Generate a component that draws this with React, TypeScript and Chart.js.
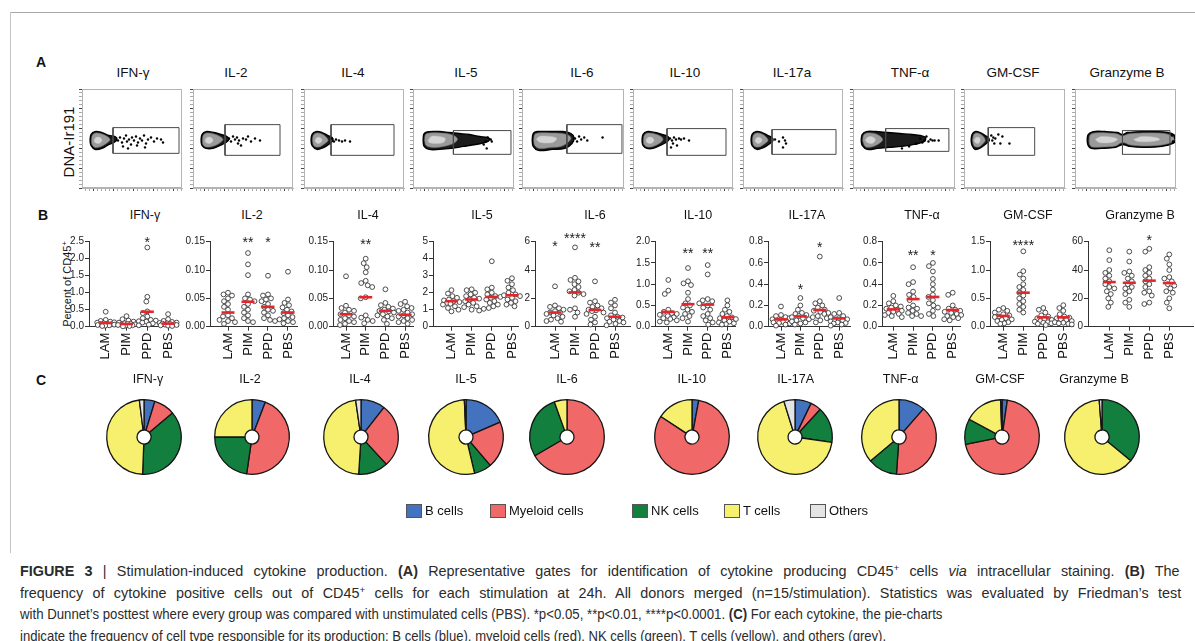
import React, { useEffect, useLayoutEffect, useRef } from 'react';
import { Chart, registerables } from 'chart.js';

Chart.register(...registerables);
const FONT = '"Liberation Sans", Arial, Helvetica, sans-serif';
Chart.defaults.font.family = FONT;

// ---------------- Panel A data (gates, contours, events in axis units 0..100)
const flowTitles = ['IFN-γ', 'IL-2', 'IL-4', 'IL-5', 'IL-6', 'IL-10', 'IL-17a', 'TNF-α', 'GM-CSF', 'Granzyme B'];
const flowGates = [
  [31, 97, 35, 61], [32, 87, 33, 64], [27, 90, 33, 64], [40, 97, 34, 58], [44, 98, 35, 64],
  [34, 93, 33, 60], [29, 93, 34, 59], [32, 94, 37, 60], [24, 70, 33, 61], [47, 94, 34, 58],
];
const flowOuter = [
  [[8,48],[9,54],[13,57],[20,56],[27,53],[33,52],[35,49],[32,46],[27,44],[20,40],[13,39],[9,43]],
  [[8,48],[9,54],[13,57],[21,56],[28,54],[34,52],[36,49],[33,46],[27,43],[20,40],[13,40],[9,43]],
  [[7,48],[8,54],[12,57],[18,56],[24,53],[28,51],[29,48],[26,45],[20,41],[13,39],[8,43]],
  [[10,48],[11,55],[16,57],[26,57],[36,56],[46,55],[56,54],[66,52],[74,51],[76,49],[72,46],[62,44],[50,42],[38,40],[26,39],[16,39],[11,42]],
  [[10,48],[11,55],[15,57],[28,57],[40,57],[48,55],[51,51],[49,45],[42,40],[30,39],[16,38],[11,42]],
  [[9,48],[10,54],[14,57],[22,56],[29,54],[35,52],[36,49],[33,46],[27,43],[20,40],[14,40],[10,43]],
  [[8,48],[9,54],[13,57],[19,56],[25,53],[29,51],[30,48],[27,45],[21,41],[14,39],[9,43]],
  [[8,48],[9,54],[13,57],[22,57],[34,56],[46,55],[58,54],[66,53],[71,51],[70,47],[60,44],[48,42],[36,41],[24,40],[14,39],[9,43]],
  [[7,48],[8,54],[11,57],[16,56],[21,53],[24,51],[25,48],[22,45],[17,41],[11,39],[8,43]],
  [[12,48],[13,54],[18,57],[30,57],[42,56],[47,54],[52,56],[66,57],[80,57],[92,56],[99,53],[100,49],[97,45],[86,42],[70,41],[54,42],[47,44],[40,41],[26,40],[16,40],[13,43]],
];
const flowInner = [
  [[9.5,48],[10.5,53.5],[14,55.5],[20,54.5],[26,51.5],[28,48.5],[25,45.5],[19,42],[13,41],[10,44]],
  [[9.5,48],[10.5,53.5],[14,55.5],[21,54.5],[27,52],[30,49],[26,45],[19,42],[13,41.5],[10,44]],
  [[8.5,48],[9.5,53.5],[13,55.5],[18,54.5],[22,51.5],[24,48],[21,45],[15,41.5],[10,42.5]],
  [[11.5,48],[12.5,54],[17,55.5],[27,55.5],[36,54.5],[42,52],[44,49],[40,45],[30,42],[20,41],[13,43]],
  [[11.5,48],[12.5,54],[16,55.5],[28,55.5],[39,55],[46,53],[48,50],[45,46],[38,42],[28,41],[17,40],[12.5,43]],
  [[10.5,48],[11.5,53.5],[15,55.5],[22,54.5],[28,52],[30,49],[27,45.5],[20,42],[14.5,41.5],[11,44]],
  [[9.5,48],[10.5,53.5],[14,55.5],[19,54.5],[23,51.5],[25,48],[22,45],[16,41.5],[11,42.5]],
  [[9.5,48],[10.5,53.5],[14,55.5],[21,55],[27,52],[29,48.5],[25,44.5],[18,41.5],[12,42]],
  [[8.5,48],[9.5,53.5],[12,55.5],[16,54.5],[19.5,51.5],[21,48],[19,45],[14.5,41.5],[10,42.5]],
  [[14,48],[15,53.5],[20,55.5],[32,55.5],[42,54.5],[47,52.5],[53,54.5],[67,55.5],[81,55.5],[91,54.5],[97,52],[98,49],[95,46],[86,43.5],[70,42.5],[55,43.5],[47,46],[40,42.5],[27,41.5],[17,41.5],[14.5,44]],
];
const flowCore = [
  [[[12,48],[14,51],[18,51],[20,48],[17,45],[13,46]]],
  [[[12,48],[14,51],[18,51],[20,48],[17,45],[13,46]]],
  [[[11,48],[13,51],[16,51],[18,48],[15,45],[12,46]]],
  [[[15,48],[18,52],[26,52],[32,50],[30,46],[22,45],[16,46]]],
  [[[14,49],[17,52],[28,52],[34,50],[30,46],[18,46]]],
  [[[13,48],[15,51],[19,51],[21,48],[18,45],[14,46]]],
  [[[12,48],[14,51],[17,51],[19,48],[16,45],[13,46]]],
  [[[12,48],[14,51],[18,52],[22,49],[19,45],[14,46]]],
  [[[10,48],[12,51],[15,51],[16,48],[14,45],[11,46]]],
  [[[20,49],[26,52],[38,51],[42,49],[36,46],[24,46]], [[58,49],[66,52],[80,51],[84,49],[76,47],[62,47]]],
];
const flowEvents = [
  [[36,48],[38,51],[40,46],[42,50],[44,53],[45,47],[47,49],[49,44],[50,51],[52,48],[54,52],[56,46],[58,50],[60,48],[62,53],[64,45],[66,49],[69,51],[72,47],[75,50],[79,49],[81,46],[41,42],[46,40],[55,43],[63,41]],
  [[36,50],[38,47],[40,52],[42,49],[44,51],[46,48],[45,45],[50,50],[53,49],[55,52],[58,47],[62,50],[67,48],[48,43]],
  [[28,50],[30,47],[32,49],[35,48],[38,47],[41,48],[46,47]],
  [[74,51],[72,47],[77,49],[70,44],[78,47],[73,40]],
  [[52,50],[54,47],[56,52],[58,49],[61,51],[64,48],[79,51]],
  [[37,50],[39,48],[41,51],[43,49],[46,50],[48,49],[51,50],[56,48],[40,45],[44,43],[38,41]],
  [[32,49],[36,47],[40,51],[42,48],[43,45],[40,41]],
  [[66,50],[70,48],[72,52],[74,47],[76,49],[78,48],[80,48],[84,48],[62,45],[55,42],[48,40],[68,46]],
  [[27,53],[29,51],[31,50],[34,54],[38,52],[30,45],[36,45],[45,45],[28,48]],
  [[99,51],[97,47],[96,53]],
];
const flowXTicks = [3, 7, 11, 15, 19, 23, 27, 31, 35, 39, 43, 47, 51, 55, 59, 63, 67, 71, 75, 79, 83, 87, 91, 95, 99];
const flowXMajor = [11, 31, 51, 71, 91];
const flowYTicks = [0, 4, 8, 12, 16, 20, 24, 28, 32, 36, 40, 44, 48, 52, 56, 60, 64, 68, 72, 76, 80, 84, 88, 92, 96, 100];
const flowYMajor = [0, 20, 40, 60, 80, 100];

// ---------------- Panel B data
const groups = ['LAM', 'PIM', 'PPD', 'PBS'];
const dotTitles = ['IFN-γ', 'IL-2', 'IL-4', 'IL-5', 'IL-6', 'IL-10', 'IL-17A', 'TNF-α', 'GM-CSF', 'Granzyme B'];

const ifngValues = [
  [0.44, 0.2, 0.17, 0.15, 0.13, 0.12, 0.1, 0.09, 0.08, 0.07, 0.06, 0.05, 0.04, 0.03, 0.02],
  [0.31, 0.22, 0.18, 0.15, 0.12, 0.1, 0.09, 0.08, 0.07, 0.06, 0.05, 0.04, 0.03, 0.02, 0.01],
  [2.33, 0.88, 0.74, 0.45, 0.4, 0.3, 0.25, 0.2, 0.18, 0.16, 0.15, 0.12, 0.1, 0.06, 0.04],
  [0.37, 0.22, 0.17, 0.14, 0.12, 0.11, 0.1, 0.09, 0.08, 0.07, 0.06, 0.05, 0.04, 0.03, 0.02],
];
const il2Values = [
  [0.06, 0.057, 0.055, 0.05, 0.045, 0.04, 0.035, 0.03, 0.02, 0.018, 0.015, 0.012, 0.01, 0.008, 0.005],
  [0.13, 0.11, 0.091, 0.057, 0.05, 0.048, 0.045, 0.04, 0.035, 0.03, 0.025, 0.02, 0.015, 0.01, 0.008],
  [0.09, 0.057, 0.055, 0.05, 0.048, 0.045, 0.04, 0.035, 0.03, 0.028, 0.025, 0.02, 0.015, 0.012, 0.01],
  [0.097, 0.048, 0.042, 0.038, 0.034, 0.03, 0.027, 0.024, 0.02, 0.017, 0.015, 0.013, 0.01, 0.008, 0.006],
];
const il4Values = [
  [0.089, 0.037, 0.033, 0.03, 0.028, 0.025, 0.022, 0.02, 0.018, 0.015, 0.012, 0.01, 0.008, 0.005, 0.003],
  [0.12, 0.112, 0.105, 0.096, 0.081, 0.077, 0.073, 0.07, 0.052, 0.05, 0.02, 0.016, 0.012, 0.01, 0.006],
  [0.066, 0.042, 0.038, 0.035, 0.032, 0.03, 0.028, 0.027, 0.025, 0.022, 0.02, 0.018, 0.015, 0.012, 0.005],
  [0.044, 0.04, 0.036, 0.033, 0.03, 0.028, 0.025, 0.022, 0.02, 0.018, 0.015, 0.012, 0.01, 0.008, 0.005],
];
const il5Values = [
  [2.15, 1.95, 1.8, 1.7, 1.6, 1.55, 1.5, 1.45, 1.4, 1.35, 1.3, 1.2, 1.1, 1.0, 0.9],
  [2.2, 2.15, 2.0, 1.9, 1.8, 1.7, 1.65, 1.6, 1.5, 1.4, 1.3, 1.2, 1.15, 1.0, 0.95],
  [3.85, 2.3, 2.2, 2.0, 1.9, 1.8, 1.75, 1.7, 1.6, 1.5, 1.4, 1.3, 1.2, 1.1, 1.05],
  [2.85, 2.7, 2.5, 2.3, 2.15, 2.0, 1.9, 1.85, 1.8, 1.7, 1.6, 1.5, 1.4, 1.3, 1.2],
];
const il6Values = [
  [2.85, 1.5, 1.4, 1.3, 1.2, 1.1, 1.0, 1.0, 0.9, 0.8, 0.7, 0.6, 0.5, 0.4, 0.35],
  [5.6, 3.45, 3.3, 3.2, 3.0, 2.8, 2.6, 2.5, 2.4, 2.3, 2.2, 1.3, 1.2, 1.0, 0.7],
  [3.2, 1.8, 1.7, 1.5, 1.4, 1.3, 1.2, 1.15, 1.1, 1.0, 0.9, 0.7, 0.5, 0.3, 0.15],
  [1.9, 1.7, 1.5, 1.3, 1.0, 0.8, 0.7, 0.65, 0.6, 0.5, 0.4, 0.35, 0.3, 0.2, 0.1],
];
const il10Values = [
  [1.1, 0.85, 0.77, 0.4, 0.35, 0.32, 0.3, 0.28, 0.25, 0.22, 0.2, 0.18, 0.15, 0.12, 0.1],
  [1.38, 1.07, 1.02, 0.98, 0.8, 0.65, 0.55, 0.5, 0.45, 0.4, 0.35, 0.3, 0.25, 0.2, 0.12],
  [1.45, 1.23, 0.65, 0.62, 0.6, 0.55, 0.5, 0.45, 0.4, 0.3, 0.25, 0.2, 0.15, 0.1, 0.05],
  [0.62, 0.5, 0.4, 0.35, 0.3, 0.25, 0.22, 0.2, 0.18, 0.15, 0.12, 0.1, 0.08, 0.06, 0.05],
];
const il17Values = [
  [0.19, 0.11, 0.1, 0.09, 0.08, 0.07, 0.065, 0.06, 0.05, 0.045, 0.04, 0.035, 0.03, 0.02, 0.01],
  [0.27, 0.2, 0.16, 0.13, 0.12, 0.11, 0.1, 0.09, 0.08, 0.07, 0.06, 0.05, 0.04, 0.03, 0.02],
  [0.66, 0.24, 0.22, 0.2, 0.18, 0.16, 0.15, 0.14, 0.13, 0.12, 0.1, 0.09, 0.08, 0.06, 0.04],
  [0.27, 0.13, 0.12, 0.1, 0.09, 0.08, 0.07, 0.065, 0.06, 0.05, 0.04, 0.035, 0.03, 0.02, 0.01],
];
const tnfValues = [
  [0.29, 0.24, 0.22, 0.2, 0.19, 0.18, 0.17, 0.16, 0.15, 0.14, 0.13, 0.12, 0.11, 0.1, 0.09],
  [0.56, 0.42, 0.4, 0.33, 0.3, 0.28, 0.25, 0.2, 0.18, 0.17, 0.15, 0.13, 0.12, 0.1, 0.1],
  [0.6, 0.57, 0.52, 0.45, 0.4, 0.35, 0.3, 0.28, 0.25, 0.22, 0.2, 0.18, 0.15, 0.12, 0.1],
  [0.32, 0.3, 0.2, 0.17, 0.16, 0.15, 0.14, 0.13, 0.12, 0.11, 0.1, 0.09, 0.08, 0.07, 0.06],
];
const gmcsfValues = [
  [0.33, 0.3, 0.28, 0.25, 0.22, 0.2, 0.18, 0.17, 0.15, 0.13, 0.12, 0.1, 0.08, 0.06, 0.05],
  [1.33, 0.98, 0.92, 0.85, 0.75, 0.7, 0.65, 0.6, 0.55, 0.5, 0.45, 0.4, 0.35, 0.3, 0.25],
  [0.33, 0.3, 0.25, 0.2, 0.18, 0.15, 0.13, 0.12, 0.1, 0.09, 0.08, 0.07, 0.06, 0.05, 0.03],
  [0.38, 0.33, 0.28, 0.22, 0.18, 0.16, 0.15, 0.13, 0.12, 0.1, 0.08, 0.07, 0.06, 0.05, 0.04],
];
const gzmbValues = [
  [54, 47, 40, 38, 36, 34, 32, 30, 28, 27, 25, 23, 20, 17, 14],
  [53, 46, 39, 38, 36, 34, 32, 30, 28, 27, 25, 23, 19, 17, 14],
  [55, 53, 42, 40, 38, 36, 34, 32, 30, 28, 25, 24, 22, 17, 16],
  [51, 48, 44, 40, 35, 34, 32, 30, 29, 27, 25, 24, 20, 17, 13],
];
const dotValues = [ifngValues, il2Values, il4Values, il5Values, il6Values, il10Values, il17Values, tnfValues, gmcsfValues, gzmbValues];

const dotMedians = [
  [0.11, 0.08, 0.44, 0.09],
  [0.025, 0.044, 0.035, 0.025],
  [0.022, 0.052, 0.028, 0.021],
  [1.5, 1.6, 1.75, 1.85],
  [1.0, 2.42, 1.18, 0.7],
  [0.35, 0.53, 0.52, 0.22],
  [0.069, 0.097, 0.157, 0.078],
  [0.163, 0.26, 0.28, 0.157],
  [0.19, 0.6, 0.165, 0.165],
  [31.5, 31, 32.5, 30.8],
];
const dotStars = [
  ['', '', '*', ''],
  ['', '**', '*', ''],
  ['', '**', '', ''],
  ['', '', '', ''],
  ['*', '****', '**', ''],
  ['', '**', '**', ''],
  ['', '*', '*', ''],
  ['', '**', '*', ''],
  ['', '****', '', ''],
  ['', '', '*', ''],
];
const dotStarY = [
  [0, 0, 2.57, 0],
  [0, 0.154, 0.154, 0],
  [0, 0.15, 0, 0],
  [0, 0, 0, 0],
  [5.89, 6.42, 5.81, 0],
  [0, 1.8, 1.8, 0],
  [0, 0.383, 0.769, 0],
  [0, 0.697, 0.697, 0],
  [0, 1.49, 0, 0],
  [0, 0, 63.1, 0],
];
const dotYTicks = [
  ['0.0', '0.5', '1.0', '1.5', '2.0', '2.5'],
  ['0.00', '0.05', '0.10', '0.15'],
  ['0.00', '0.05', '0.10', '0.15'],
  ['0', '1', '2', '3', '4', '5'],
  ['0', '2', '4', '6'],
  ['0.0', '0.5', '1.0', '1.5', '2.0'],
  ['0.0', '0.2', '0.4', '0.6', '0.8'],
  ['0.0', '0.2', '0.4', '0.6', '0.8'],
  ['0.0', '0.5', '1.0', '1.5'],
  ['0', '20', '40', '60'],
];

// ---------------- Panel C data
const cellTypes = ['B cells', 'Myeloid cells', 'NK cells', 'T cells', 'Others'];
const cellColors = ['#4373BE', '#F06868', '#137F3E', '#F6F06E', '#E4E4E4'];
const pieTitles = ['IFN-γ', 'IL-2', 'IL-4', 'IL-5', 'IL-6', 'IL-10', 'IL-17A', 'TNF-α', 'GM-CSF', 'Granzyme B'];
const pieIFNG = [4.7, 9.2, 36.7, 47.4, 2.0];
const pieIL2 = [5.8, 46.5, 22.7, 25.0, 0];
const pieIL4 = [10.5, 27.6, 12.9, 46.7, 2.3];
const pieIL5 = [18.5, 20.3, 7.5, 53.0, 0.7];
const pieIL6 = [0, 66.6, 27.9, 5.5, 0];
const pieIL10 = [2.9, 81.4, 0, 15.7, 0];
const pieIL17 = [7.1, 4.7, 15.5, 67.9, 4.8];
const pieTNF = [11.4, 39.7, 12.8, 36.1, 0];
const pieGMCSF = [2.3, 69.5, 11.1, 16.5, 0.6];
const pieGZMB = [0, 0, 36.0, 62.8, 1.2];
const pieShares = [pieIFNG, pieIL2, pieIL4, pieIL5, pieIL6, pieIL10, pieIL17, pieTNF, pieGMCSF, pieGZMB];

// ---------------- Layout (pixels)
const FLOW_BOX_X = [[82, 184], [193, 295], [304, 406], [413, 516], [522, 626], [633, 735], [743, 845], [853, 957], [964, 1067], [1075, 1178]];
const FLOW_TOP = 87;
const FLOW_BOTTOM = 188;
const FLOW_TITLE_X = [133, 236, 353, 466, 582, 685, 792, 910, 1013, 1127];

const DOT_AXIS_X = [89.3, 210, 333, 433.3, 535, 655, 768, 882, 990, 1088];
const DOT_CAT0 = [106, 228, 346, 451.7, 555, 668.3, 781, 893.3, 1003.3, 1109.3];
const DOT_SP = [20.8, 20, 19.7, 20.1, 20, 19.7, 19.4, 19.8, 20, 20];
const DOT_END = [178.3, 297, 413, 518, 630, 735, 850, 960, 1073, 1193];
const DOT_TITLE_X = [145, 252, 368, 482, 595, 698, 807, 922, 1028, 1140];
const DOT_CANVAS_TOP = 228;
const DOT_CANVAS_H = 142;
const DOT_AREA_TOP = 241.7;
const DOT_AREA_BOTTOM = 326.7;

const PIE_X = [144, 251.7, 360.7, 466, 567.3, 691.7, 795, 899.3, 1001.7, 1101.7];
const PIE_TITLE_X = [148, 250, 360, 466, 567, 691.7, 795.7, 900.7, 1000, 1094];
const PIE_Y = 436.7;

const LEGEND_BOX_X = [406, 490, 632, 724, 810];

function zeroPad(s: any) {
  s.paddingLeft = 0; s.paddingRight = 0; s.paddingTop = 0; s.paddingBottom = 0;
}

function swarmOffsets(vals: number[], ymax: number, spacing: number): number[] {
  const plotH = DOT_AREA_BOTTOM - DOT_AREA_TOP;
  const minD = 4.8, maxOff = 8.5, step = 0.5;
  const idx = vals.map((_, k) => k).sort((a, b) => vals[b] - vals[a]);
  const placed: { x: number; y: number }[] = [];
  const out = new Array(vals.length).fill(0);
  for (const k of idx) {
    const y = (vals[k] / ymax) * plotH;
    let best = 0, bestScore = -1;
    for (let s = 0; s <= (maxOff / step) * 2; s++) {
      const off = (s % 2 === 0 ? 1 : -1) * Math.ceil(s / 2) * step;
      let md = Infinity;
      for (const p of placed) md = Math.min(md, Math.hypot(p.x - off, p.y - y));
      if (md >= minD) { best = off; bestScore = Infinity; break; }
      if (md > bestScore) { bestScore = md; best = off; }
    }
    placed.push({ x: best, y });
    out[k] = best / spacing;
  }
  return out;
}

const abs = (l: number, t: number, w: number, h: number): React.CSSProperties => ({ position: 'absolute', left: l, top: t, width: w, height: h });

function FlowPlot({ i }: { i: number }) {
  const ref = useRef<HTMLCanvasElement>(null);
  const [x1, x2] = FLOW_BOX_X[i];
  const w = x2 - x1, h = FLOW_BOTTOM - FLOW_TOP;
  const cw = w + 8, ch = h + 8;
  useEffect(() => {
    const pts = (a: number[][]) => a.map(([x, y]) => ({ x, y }));
    const close = (a: number[][]) => [...a, a[0]];
    const [gx1, gx2, gy1, gy2] = flowGates[i];
    const shape = (poly: number[][], bg: string, bc: string, bw: number, order: number) => ({
      data: pts(close(poly)), showLine: true, fill: 'shape', backgroundColor: bg, borderColor: bc,
      borderWidth: bw, pointRadius: 0, tension: 0.35, order,
    });
    const datasets: any[] = [
      { data: pts(flowEvents[i]), showLine: false, pointRadius: 1.2, pointBorderWidth: 0, backgroundColor: '#000', borderColor: '#000', order: 0 },
      { data: pts([[gx1, gy1], [gx2, gy1], [gx2, gy2], [gx1, gy2], [gx1, gy1]]), showLine: true, fill: false, borderColor: '#4a4a4a', borderWidth: 1, pointRadius: 0, tension: 0, order: 1 },
      ...flowCore[i].map((p) => shape(p, '#d4d4d4', '#c4c4c4', 0.5, 2)),
      shape(flowInner[i], '#9a9a9a', '#777', 0.6, 3),
      shape(flowOuter[i], '#1c1c1c', '#000', 1.4, 4),
    ];
    const frame = {
      id: 'frame',
      afterDraw(c: any) {
        const { left, top, right, bottom } = c.chartArea;
        const g = c.ctx; g.save(); g.strokeStyle = '#b4b4b4'; g.lineWidth = 1;
        g.strokeRect(Math.round(left) + 0.5, Math.round(top) + 0.5, Math.round(right - left) - 1, Math.round(bottom - top) - 1);
        g.restore();
      },
    };
    const chart = new Chart(ref.current!, {
      type: 'line',
      data: { datasets },
      plugins: [frame],
      options: {
        animation: false, responsive: false, events: [],
        layout: { padding: { left: 0, right: 2, top: 2, bottom: 0 } },
        plugins: { legend: { display: false }, tooltip: { enabled: false } },
        scales: {
          x: {
            type: 'linear', min: 0, max: 100,
            afterBuildTicks: (s: any) => { s.ticks = flowXTicks.map((v) => ({ value: v })); },
            afterFit: (s: any) => { s.height = 6; zeroPad(s); },
            ticks: { display: false },
            grid: { drawOnChartArea: false, tickLength: 3, color: (c: any) => (flowXMajor.includes(c.tick?.value) ? '#444' : '#aaa') },
            border: { color: '#b4b4b4' },
          },
          y: {
            type: 'linear', min: 0, max: 100,
            afterBuildTicks: (s: any) => { s.ticks = flowYTicks.map((v) => ({ value: v })); },
            afterFit: (s: any) => { s.width = 6; zeroPad(s); },
            ticks: { display: false },
            grid: { drawOnChartArea: false, tickLength: 3, color: (c: any) => (flowYMajor.includes(c.tick?.value) ? '#444' : '#aaa') },
            border: { color: '#b4b4b4' },
          },
        },
      } as any,
    });
    return () => chart.destroy();
  }, [i]);
  return <canvas ref={ref} width={cw} height={ch} style={abs(x1 - 6, FLOW_TOP - 2, cw, ch)} />;
}

function DotPlot({ i }: { i: number }) {
  const ref = useRef<HTMLCanvasElement>(null);
  const axisX = DOT_AXIS_X[i], sp = DOT_SP[i], cat0 = DOT_CAT0[i], endX = DOT_END[i];
  const left = axisX - 40;
  const cw = Math.round(endX + 6 - left);
  useEffect(() => {
    const tickVals = dotYTicks[i].map((t) => parseFloat(t));
    const ymax = tickVals[tickVals.length - 1];
    const xmin = -(cat0 - axisX) / sp;
    const xmax = 3 + (endX - (cat0 + 3 * sp)) / sp;
    const pts: { x: number; y: number }[] = [];
    dotValues[i].forEach((vals, g) => {
      const offs = swarmOffsets(vals, ymax, sp);
      vals.forEach((v, k) => pts.push({ x: g + offs[k], y: v }));
    });
    const hw = 6.5 / sp;
    const medianSets = dotMedians[i].map((m, g) => ({
      data: [{ x: g - hw, y: m }, { x: g + hw, y: m }], showLine: true, borderColor: '#E3262B',
      borderWidth: 2.6, pointRadius: 0, order: 0, clip: false, borderCapStyle: 'butt',
    }));
    const stars = {
      id: 'stars',
      afterDatasetsDraw(c: any) {
        const g = c.ctx; const xs = c.scales.x, ys = c.scales.y;
        g.save(); g.fillStyle = '#222'; g.font = `14px ${FONT}`; g.textAlign = 'center'; g.textBaseline = 'alphabetic';
        dotStars[i].forEach((s, k) => {
          if (!s) return;
          g.fillText(s, xs.getPixelForValue(k), ys.getPixelForValue(dotStarY[i][k]) + 7.5);
        });
        g.restore();
      },
    };
    const chart = new Chart(ref.current!, {
      type: 'line',
      data: {
        datasets: [
          ...medianSets,
          { data: pts, showLine: false, pointRadius: 2.4, pointBorderWidth: 0.9, borderColor: '#3a3a3a', backgroundColor: '#fff', order: 1, clip: false },
        ],
      },
      plugins: [stars],
      options: {
        animation: false, responsive: false, events: [],
        layout: { padding: { left: 0, right: 6, top: DOT_AREA_TOP - DOT_CANVAS_TOP, bottom: 0 } },
        plugins: { legend: { display: false }, tooltip: { enabled: false } },
        scales: {
          x: {
            type: 'linear', min: xmin, max: xmax,
            afterBuildTicks: (s: any) => { s.ticks = [0, 1, 2, 3].map((v) => ({ value: v })); },
            afterFit: (s: any) => { s.height = DOT_CANVAS_TOP + DOT_CANVAS_H - DOT_AREA_BOTTOM; zeroPad(s); },
            ticks: {
              autoSkip: false, minRotation: 90, maxRotation: 90, padding: 2, color: '#111',
              font: { size: 13 }, callback: (v: any) => groups[v] ?? '',
            },
            grid: { drawOnChartArea: false, tickLength: 4, color: '#333', lineWidth: 1 },
            border: { color: '#333', width: 1 },
          },
          y: {
            type: 'linear', min: 0, max: ymax,
            afterBuildTicks: (s: any) => { s.ticks = tickVals.map((v) => ({ value: v })); },
            afterFit: (s: any) => { s.width = 40; zeroPad(s); },
            ticks: {
              autoSkip: false, padding: 1, color: '#222', font: { size: 10 },
              callback: (v: any) => { const k = tickVals.indexOf(v); return k >= 0 ? dotYTicks[i][k] : ''; },
            },
            grid: { drawOnChartArea: false, tickLength: 4, color: '#333', lineWidth: 1 },
            border: { color: '#333', width: 1 },
          },
        },
      } as any,
    });
    return () => chart.destroy();
  }, [i]);
  return <canvas ref={ref} width={cw} height={DOT_CANVAS_H} style={abs(left, DOT_CANVAS_TOP, cw, DOT_CANVAS_H)} />;
}

function PiePlot({ i }: { i: number }) {
  const ref = useRef<HTMLCanvasElement>(null);
  const size = 84;
  useEffect(() => {
    const chart = new Chart(ref.current!, {
      type: 'doughnut',
      data: {
        labels: cellTypes,
        datasets: [{ data: pieShares[i], backgroundColor: cellColors, borderColor: '#151515', borderWidth: 1.3 }],
      },
      options: {
        animation: false, responsive: false, events: [],
        radius: 37.3, cutout: 7.8,
        layout: { padding: 0 },
        plugins: { legend: { display: false }, tooltip: { enabled: false } },
      } as any,
    });
    return () => chart.destroy();
  }, [i]);
  return <canvas ref={ref} width={size} height={size} style={abs(PIE_X[i] - size / 2, PIE_Y - size / 2, size, size)} />;
}

function Label({ x, y, size, children, bold, rotate }: { x: number; y: number; size: number; children: React.ReactNode; bold?: boolean; rotate?: boolean }) {
  return (
    <div
      style={{
        position: 'absolute', left: x, top: y, whiteSpace: 'nowrap', lineHeight: 1, fontSize: size,
        fontFamily: FONT, fontWeight: bold ? 700 : 400, color: '#111',
        transform: `translate(-50%, -50%)${rotate ? ' rotate(-90deg)' : ''}`,
      }}
    >
      {children}
    </div>
  );
}

const supStyle: React.CSSProperties = { fontSize: '0.68em', verticalAlign: 'baseline', position: 'relative', top: '-0.5em' };

const captionLines: React.ReactNode[] = [
  <><b>FIGURE 3</b> | Stimulation-induced cytokine production. <b>(A)</b> Representative gates for identification of cytokine producing CD45<span style={supStyle}>+</span> cells <i>via</i> intracellular staining. <b>(B)</b> The</>,
  <>frequency of cytokine positive cells out of CD45<span style={supStyle}>+</span> cells for each stimulation at 24h. All donors merged (n=15/stimulation). Statistics was evaluated by Friedman’s test</>,
  <>with Dunnet’s posttest where every group was compared with unstimulated cells (PBS). *p&lt;0.05, **p&lt;0.01, ****p&lt;0.0001. <b>(C)</b> For each cytokine, the pie-charts</>,
  <>indicate the frequency of cell type responsible for its production: B cells (blue), myeloid cells (red), NK cells (green), T cells (yellow), and others (grey).</>,
];
const captionWidths = [1160, 1161, 922, 866];
const captionY = [570.7, 592.7, 614, 636];

function Caption() {
  const refs = useRef<(HTMLSpanElement | null)[]>([]);
  useLayoutEffect(() => {
    const fit = () => {
      const els = refs.current;
      els.forEach((el) => { if (el) { el.style.transform = 'none'; el.style.wordSpacing = '0px'; } });
      const last = els[els.length - 1];
      if (!last || last.offsetWidth <= 0) return;
      // base condensing factor from the last line; wider lines get a little glyph stretch plus word spacing
      const k = captionWidths[captionWidths.length - 1] / last.offsetWidth;
      els.forEach((el, n) => {
        if (!el) return;
        const natW = el.offsetWidth;
        const needed = captionWidths[n] / natW;
        const kk = Math.min(needed, k * 1.1);
        const spaces = (el.textContent || '').split(' ').length - 1;
        const extra = captionWidths[n] - natW * kk;
        if (spaces > 0 && extra > 0) el.style.wordSpacing = `${extra / kk / spaces}px`;
        el.style.transform = `scaleX(${kk})`;
      });
    };
    fit();
    (document as any).fonts?.ready?.then(fit);
  }, []);
  return (
    <>
      {captionLines.map((line, k) => (
        <span
          key={k}
          ref={(el) => { refs.current[k] = el; }}
          style={{
            position: 'absolute', left: 20, top: captionY[k] - 9, height: 18, lineHeight: '18px', display: 'inline-block',
            whiteSpace: 'nowrap', fontFamily: '"Liberation Sans", Arial, sans-serif', fontSize: 14.5,
            color: '#2b2b2b', transformOrigin: '0 50%',
          }}
        >
          {line}
        </span>
      ))}
    </>
  );
}

export default function App() {
  const idx = [0, 1, 2, 3, 4, 5, 6, 7, 8, 9];
  return (
    <div style={{ position: 'fixed', left: 0, top: 0, width: 1195, height: 641, background: '#fff', overflow: 'hidden', fontFamily: FONT }}>
      {/* frame */}
      <div style={{ ...abs(10, 12, 1185, 1), background: '#a8a8a8' }} />
      <div style={{ ...abs(10, 12, 1, 541), background: '#c4c4c4' }} />

      {/* Panel A */}
      <Label x={41} y={62} size={14} bold>A</Label>
      <Label x={67.5} y={142} size={15} rotate>DNA-Ir191</Label>
      {idx.map((i) => <Label key={'ft' + i} x={FLOW_TITLE_X[i]} y={73} size={13.5}>{flowTitles[i]}</Label>)}
      {idx.map((i) => <FlowPlot key={'fp' + i} i={i} />)}

      {/* Panel B */}
      <Label x={43} y={215} size={14} bold>B</Label>
      <Label x={67} y={284} size={11} rotate>Percent of CD45<span style={supStyle}>+</span></Label>
      {idx.map((i) => <Label key={'dt' + i} x={DOT_TITLE_X[i]} y={215} size={12.5}>{dotTitles[i]}</Label>)}
      {idx.map((i) => <DotPlot key={'dp' + i} i={i} />)}

      {/* Panel C */}
      <Label x={41} y={380} size={14} bold>C</Label>
      {idx.map((i) => <Label key={'pt' + i} x={PIE_TITLE_X[i]} y={379} size={12.5}>{pieTitles[i]}</Label>)}
      {idx.map((i) => <PiePlot key={'pp' + i} i={i} />)}

      {/* Legend */}
      {cellTypes.map((t, k) => (
        <React.Fragment key={'lg' + k}>
          <div style={{ ...abs(LEGEND_BOX_X[k], 504, 16, 14), boxSizing: 'border-box', background: cellColors[k], border: '1px solid #555' }} />
          <div style={{ position: 'absolute', left: LEGEND_BOX_X[k] + 19, top: 504, height: 14, lineHeight: '14px', fontSize: 13, color: '#111', whiteSpace: 'nowrap' }}>{t}</div>
        </React.Fragment>
      ))}

      <Caption />
    </div>
  );
}
